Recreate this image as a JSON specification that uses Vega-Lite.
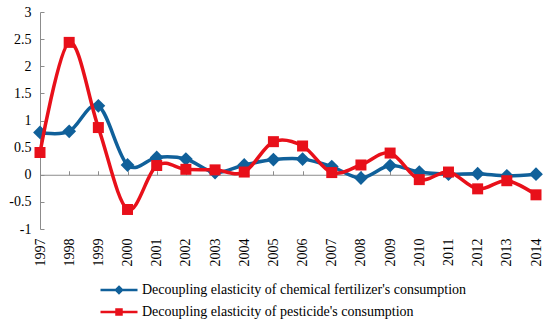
{
  "$schema": "https://vega.github.io/schema/vega-lite/v6.json",
  "width": 496,
  "height": 217,
  "autosize": {"type": "none"},
  "padding": {"left": 40, "top": 12, "right": 14, "bottom": 94},
  "background": "white",
  "config": {
    "view": {"stroke": null},
    "font": "Liberation Serif",
    "axis": {"labelFont": "Liberation Serif", "labelFontSize": 14, "labelColor": "black", "domainColor": "#8c8c8c", "tickColor": "#8c8c8c", "grid": false, "title": null}
  },
  "data": {
    "values": [
      {"year": "1997", "series": "Decoupling elasticity of chemical fertilizer's consumption", "value": 0.78},
      {"year": "1998", "series": "Decoupling elasticity of chemical fertilizer's consumption", "value": 0.80},
      {"year": "1999", "series": "Decoupling elasticity of chemical fertilizer's consumption", "value": 1.27},
      {"year": "2000", "series": "Decoupling elasticity of chemical fertilizer's consumption", "value": 0.18},
      {"year": "2001", "series": "Decoupling elasticity of chemical fertilizer's consumption", "value": 0.32},
      {"year": "2002", "series": "Decoupling elasticity of chemical fertilizer's consumption", "value": 0.29},
      {"year": "2003", "series": "Decoupling elasticity of chemical fertilizer's consumption", "value": 0.04},
      {"year": "2004", "series": "Decoupling elasticity of chemical fertilizer's consumption", "value": 0.18},
      {"year": "2005", "series": "Decoupling elasticity of chemical fertilizer's consumption", "value": 0.28},
      {"year": "2006", "series": "Decoupling elasticity of chemical fertilizer's consumption", "value": 0.29},
      {"year": "2007", "series": "Decoupling elasticity of chemical fertilizer's consumption", "value": 0.15},
      {"year": "2008", "series": "Decoupling elasticity of chemical fertilizer's consumption", "value": -0.06},
      {"year": "2009", "series": "Decoupling elasticity of chemical fertilizer's consumption", "value": 0.17},
      {"year": "2010", "series": "Decoupling elasticity of chemical fertilizer's consumption", "value": 0.05},
      {"year": "2011", "series": "Decoupling elasticity of chemical fertilizer's consumption", "value": 0.01},
      {"year": "2012", "series": "Decoupling elasticity of chemical fertilizer's consumption", "value": 0.02},
      {"year": "2013", "series": "Decoupling elasticity of chemical fertilizer's consumption", "value": -0.02},
      {"year": "2014", "series": "Decoupling elasticity of chemical fertilizer's consumption", "value": 0.01},
      {"year": "1997", "series": "Decoupling elasticity of pesticide's consumption", "value": 0.41},
      {"year": "1998", "series": "Decoupling elasticity of pesticide's consumption", "value": 2.44},
      {"year": "1999", "series": "Decoupling elasticity of pesticide's consumption", "value": 0.87},
      {"year": "2000", "series": "Decoupling elasticity of pesticide's consumption", "value": -0.64},
      {"year": "2001", "series": "Decoupling elasticity of pesticide's consumption", "value": 0.17},
      {"year": "2002", "series": "Decoupling elasticity of pesticide's consumption", "value": 0.10},
      {"year": "2003", "series": "Decoupling elasticity of pesticide's consumption", "value": 0.09},
      {"year": "2004", "series": "Decoupling elasticity of pesticide's consumption", "value": 0.05},
      {"year": "2005", "series": "Decoupling elasticity of pesticide's consumption", "value": 0.61},
      {"year": "2006", "series": "Decoupling elasticity of pesticide's consumption", "value": 0.53},
      {"year": "2007", "series": "Decoupling elasticity of pesticide's consumption", "value": 0.04},
      {"year": "2008", "series": "Decoupling elasticity of pesticide's consumption", "value": 0.18},
      {"year": "2009", "series": "Decoupling elasticity of pesticide's consumption", "value": 0.40},
      {"year": "2010", "series": "Decoupling elasticity of pesticide's consumption", "value": -0.09},
      {"year": "2011", "series": "Decoupling elasticity of pesticide's consumption", "value": 0.05},
      {"year": "2012", "series": "Decoupling elasticity of pesticide's consumption", "value": -0.26},
      {"year": "2013", "series": "Decoupling elasticity of pesticide's consumption", "value": -0.11},
      {"year": "2014", "series": "Decoupling elasticity of pesticide's consumption", "value": -0.37}
    ]
  },
  "encoding": {
    "y": {"field": "value", "type": "quantitative", "scale": {"domain": [-1, 3], "nice": false, "zero": false},
      "axis": {"values": [-1, -0.5, 0, 0.5, 1, 1.5, 2, 2.5, 3], "labelExpr": "'' + datum.value", "tickSize": -4, "labelPadding": 13}},
    "color": {"field": "series", "type": "nominal",
      "scale": {"domain": ["Decoupling elasticity of chemical fertilizer's consumption", "Decoupling elasticity of pesticide's consumption"], "range": ["#10609a", "#e8101a"]},
      "legend": {
        "orient": "none", "legendX": 72, "legendY": 271, "direction": "vertical", "title": null,
        "labelFont": "Liberation Serif", "labelFontSize": 14, "labelColor": "black", "labelLimit": 600,
        "symbolSize": 100, "symbolStrokeWidth": 2.5, "labelOffset": 16, "rowPadding": 6, "padding": 0,
        "encode": {"symbols": {"update": {
          "shape": {"signal": "indexof(datum.value,'fertilizer')>=0 ? 'M-3.7,0L3.7,0M0,-0.6L0.6,0L0,0.6L-0.6,0Z' : 'M-3.7,0L3.7,0M-0.5,-0.5L0.5,-0.5L0.5,0.5L-0.5,0.5Z'"},
          "fill": {"signal": "indexof(datum.value,'fertilizer')>=0 ? '#10609a' : '#e8101a'"},
          "stroke": {"signal": "indexof(datum.value,'fertilizer')>=0 ? '#10609a' : '#e8101a'"},
          "fillOpacity": {"value": 1}, "opacity": {"value": 1}, "strokeWidth": {"value": 2.5}
        }}}
      }}
  },
  "layer": [
    {
      "transform": [{"filter": "indexof(datum.series,'fertilizer')>=0"}],
      "mark": {"type": "line", "interpolate": "cardinal", "tension": 0, "strokeWidth": 3.5},
      "encoding": {
        "x": {"field": "year", "type": "ordinal", "scale": {"type": "point", "padding": 0},
          "axis": {"orient": "bottom", "domain": false, "ticks": false, "labelAngle": 270, "labelPadding": 9}}
      }
    },
    {
      "transform": [{"filter": "indexof(datum.series,'fertilizer')>=0"}],
      "mark": {"type": "point", "shape": "diamond", "filled": true, "opacity": 1, "size": 190},
      "encoding": {
        "x": {"field": "year", "type": "ordinal",
          "axis": {"orient": "bottom", "offset": -54.25, "labels": false, "domain": true, "ticks": true, "tickSize": -4}}
      }
    },
    {
      "transform": [{"filter": "indexof(datum.series,'pesticide')>=0"}],
      "mark": {"type": "line", "interpolate": "cardinal", "tension": 0, "strokeWidth": 3.5},
      "encoding": {"x": {"field": "year", "type": "ordinal", "axis": null}}
    },
    {
      "transform": [{"filter": "indexof(datum.series,'pesticide')>=0"}],
      "mark": {"type": "point", "shape": "square", "filled": true, "opacity": 1, "size": 121},
      "encoding": {"x": {"field": "year", "type": "ordinal", "axis": null}}
    }
  ],
  "resolve": {"axis": {"x": "independent"}}
}
